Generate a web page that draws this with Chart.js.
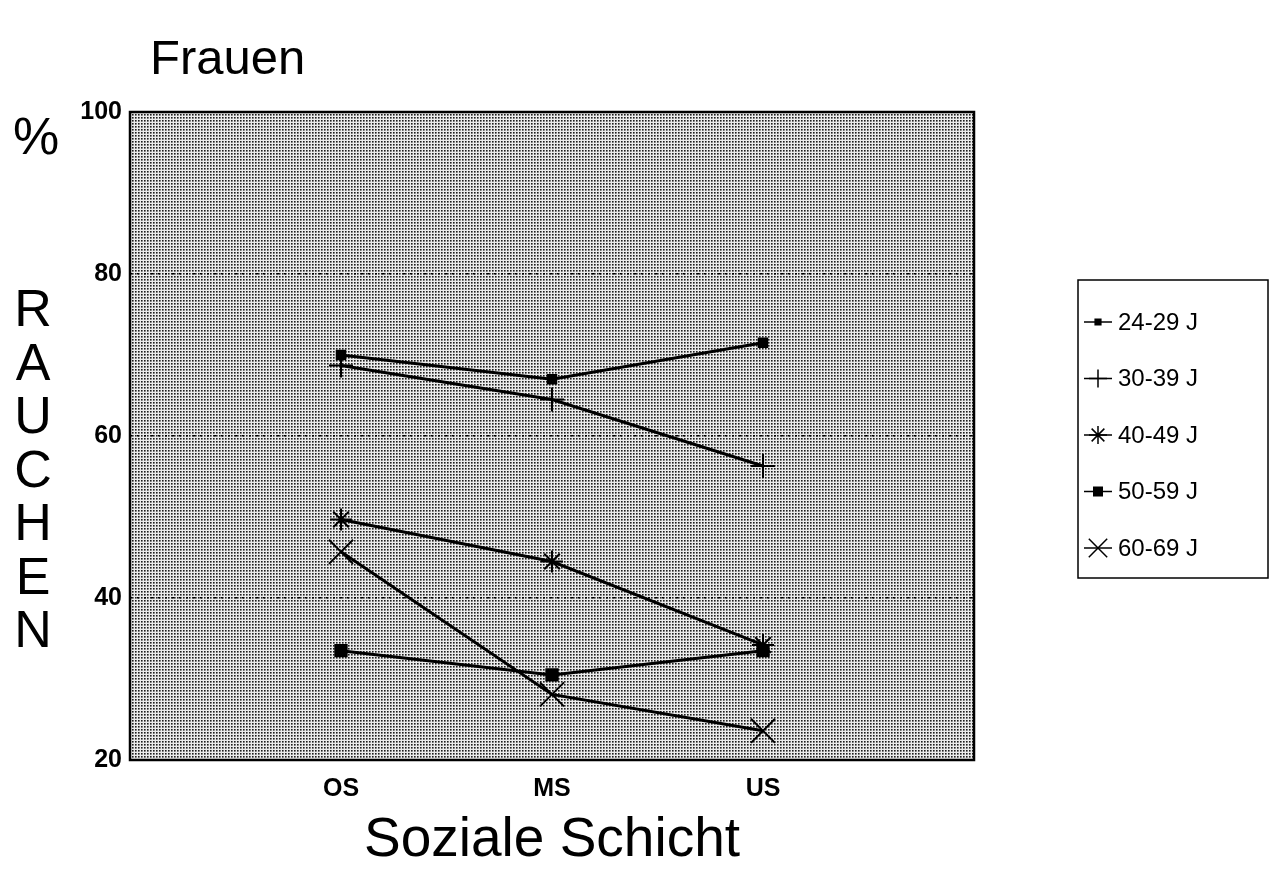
<!DOCTYPE html>
<html>
<head>
<meta charset="utf-8">
<script src="https://cdn.jsdelivr.net/npm/chart.js@4/dist/chart.umd.min.js"></script>
<style>
  html, body { margin: 0; padding: 0; background: #fff; }
</style>
</head>
<body>
<canvas id="c" width="1271" height="878"></canvas>
<script>
// values (% Raucherinnen)
var categories = ['OS', 'MS', 'US'];
var ageGroups = ['24-29 J', '30-39 J', '40-49 J', '50-59 J', '60-69 J'];
var rauchen2429 = [70, 67, 71.5];
var rauchen3039 = [68.7, 64.5, 56.3];
var rauchen4049 = [49.7, 44.5, 34.2];
var rauchen5059 = [33.5, 30.5, 33.5];
var rauchen6069 = [45.7, 28.1, 23.6];
var yTicks = [20, 40, 60, 80, 100];
var titleText = 'Frauen';
var xTitle = 'Soziale Schicht';
var yTitle = ['%', 'R', 'A', 'U', 'C', 'H', 'E', 'N'];

var FONT = '"Liberation Sans", Arial, Helvetica, sans-serif';

// empty slots left and right of the three classes
function pad(arr) { return [null].concat(arr).concat([null]); }

var markers = [
    { style: 'rect', radius: 6, legendRadius: 4 },
    { style: 'cross', radius: 12, legendRadius: 9 },
    { style: 'star', radius: 11, legendRadius: 9 },
    { style: 'rect', radius: 8, legendRadius: 6 },
    { style: 'crossRot', radius: 17, legendRadius: 13 }
];
var series = [rauchen2429, rauchen3039, rauchen4049, rauchen5059, rauchen6069];

var datasets = series.map(function (vals, i) {
    return {
        label: ageGroups[i],
        data: pad(vals),
        borderColor: '#000',
        backgroundColor: '#000',
        borderWidth: 3,
        pointStyle: markers[i].style,
        pointRadius: markers[i].radius,
        pointBorderWidth: 2,
        pointBorderColor: '#000',
        pointBackgroundColor: '#000',
        tension: 0,
        spanGaps: false
    };
});

function stipple(ctx) {
    var p = document.createElement('canvas');
    p.width = 3; p.height = 3;
    var g = p.getContext('2d');
    g.fillStyle = '#ececec';
    g.fillRect(0, 0, 3, 3);
    g.fillStyle = '#1e1e1e';
    g.fillRect(0, 0, 1, 1);
    g.fillStyle = '#6e6e6e';
    g.fillRect(1, 0, 1, 1);
    g.fillRect(0, 1, 1, 1);
    g.fillStyle = '#a0a0a0';
    g.fillRect(1, 1, 1, 1);
    return ctx.createPattern(p, 'repeat');
}

var decor = {
    id: 'decor',
    beforeDraw: function (chart) {
        var ctx = chart.ctx, a = chart.chartArea;
        ctx.save();
        ctx.fillStyle = stipple(ctx);
        ctx.fillRect(a.left, a.top, a.right - a.left, a.bottom - a.top);
        ctx.restore();
    },
    afterDraw: function (chart) {
        var ctx = chart.ctx, a = chart.chartArea;
        ctx.save();
        // frame
        ctx.strokeStyle = '#000';
        ctx.lineWidth = 2.5;
        ctx.strokeRect(a.left, a.top, a.right - a.left, a.bottom - a.top);

        // title
        ctx.fillStyle = '#000';
        ctx.font = '49px ' + FONT;
        ctx.textAlign = 'left';
        ctx.textBaseline = 'alphabetic';
        ctx.fillText(titleText, a.left + 20, 74);

        // stacked y title
        ctx.font = '52px ' + FONT;
        ctx.textAlign = 'center';
        ctx.textBaseline = 'middle';
        ctx.fillText(yTitle[0], 36, a.top + 28);
        for (var k = 1; k < yTitle.length; k++) {
            ctx.fillText(yTitle[k], 33, a.top + 200 + (k - 1) * 53.5);
        }

        // legend
        var bx = 1078, by = 280, bw = 190, bh = 298;
        ctx.lineWidth = 1.5;
        ctx.strokeRect(bx, by, bw, bh);
        ctx.font = '24px ' + FONT;
        ctx.textAlign = 'left';
        chart.data.datasets.forEach(function (ds, i) {
            var y = by + 42 + i * 56.5;
            ctx.strokeStyle = '#000';
            ctx.lineWidth = 1.5;
            ctx.beginPath();
            ctx.moveTo(bx + 6, y);
            ctx.lineTo(bx + 34, y);
            ctx.stroke();
            ctx.fillStyle = '#000';
            ctx.lineWidth = 1.5;
            Chart.helpers.drawPoint(ctx, {
                pointStyle: markers[i].style,
                radius: markers[i].legendRadius,
                rotation: 0,
                borderWidth: 1.5
            }, bx + 20, y);
            ctx.fillStyle = '#000';
            ctx.fillText(ds.label, bx + 40, y + 1);
        });
        ctx.restore();
    }
};

new Chart(document.getElementById('c'), {
    type: 'line',
    data: {
        labels: pad(categories).map(function (c) { return c || ''; }),
        datasets: datasets
    },
    options: {
        responsive: false,
        animation: false,
        layout: { padding: { left: 60, top: 112, right: 297, bottom: 0 } },
        plugins: {
            legend: { display: false },
            tooltip: { enabled: false }
        },
        scales: {
            x: {
                type: 'category',
                offset: false,
                afterFit: function (s) { s.height = 118; },
                grid: { display: false, drawTicks: false },
                border: { display: false },
                ticks: {
                    color: '#000',
                    padding: 14,
                    maxRotation: 0,
                    autoSkip: false,
                    font: { family: FONT, size: 25, weight: 'bold' }
                },
                title: {
                    display: true,
                    text: xTitle,
                    color: '#000',
                    padding: { top: 0, bottom: 4 },
                    font: { family: FONT, size: 55 }
                }
            },
            y: {
                min: 20,
                max: 100,
                afterFit: function (s) { s.width = 70; },
                afterBuildTicks: function (s) {
                    s.ticks = yTicks.map(function (v) { return { value: v }; });
                },
                grid: {
                    drawTicks: false,
                    color: function (c) {
                        var v = c.tick && c.tick.value;
                        return (v === 20 || v === 100) ? 'rgba(0,0,0,0)' : '#000';
                    },
                    lineWidth: 1.5
                },
                border: { display: false, dash: [2, 5] },
                ticks: {
                    color: '#000',
                    padding: 8,
                    font: { family: FONT, size: 25, weight: 'bold' }
                }
            }
        }
    },
    plugins: [decor]
});
</script>
</body>
</html>
